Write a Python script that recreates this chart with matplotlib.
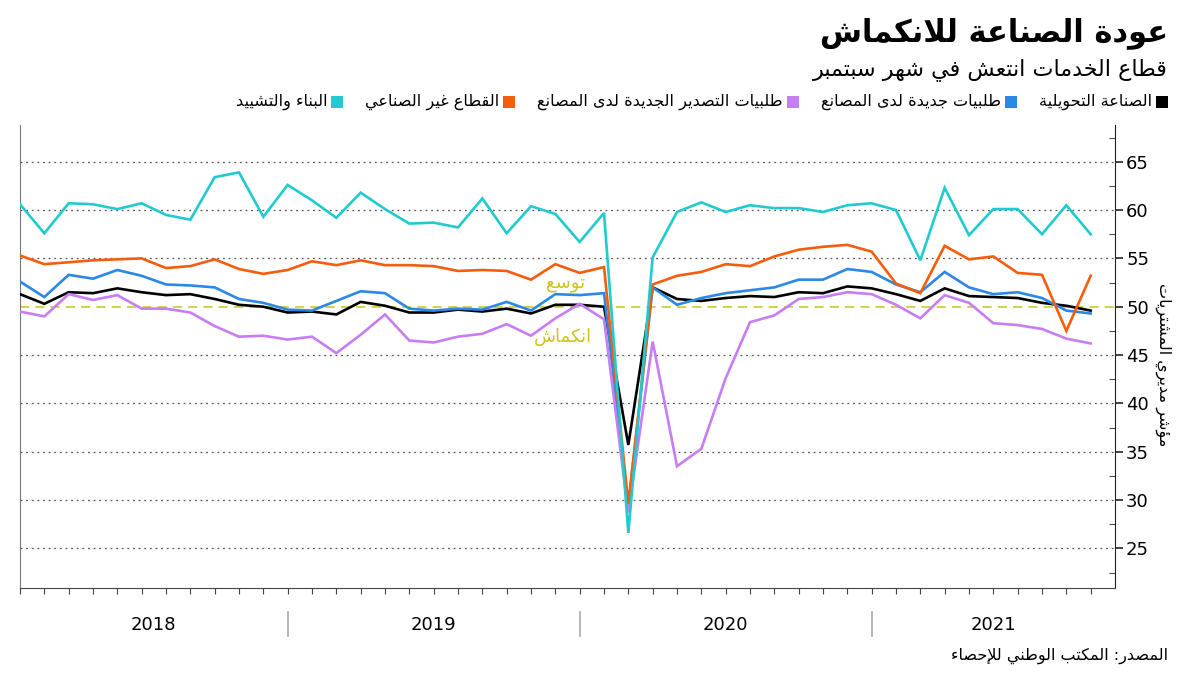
import matplotlib
matplotlib.use('Agg')
import matplotlib.pyplot as plt
from matplotlib.patches import Rectangle
from matplotlib.transforms import blended_transform_factory
import numpy as np

plt.rcParams['font.family'] = ['DejaVu Sans']

# monthly PMI readings, Jan 2018 .. Sep 2021
manufacturing = [51.3, 50.3, 51.5, 51.4, 51.9, 51.5, 51.2, 51.3, 50.8, 50.2, 50.0, 49.4,
                 49.5, 49.2, 50.5, 50.1, 49.4, 49.4, 49.7, 49.5, 49.8, 49.3, 50.2, 50.2,
                 50.0, 35.7, 52.0, 50.8, 50.6, 50.9, 51.1, 51.0, 51.5, 51.4, 52.1, 51.9,
                 51.3, 50.6, 51.9, 51.1, 51.0, 50.9, 50.4, 50.1, 49.6]
new_orders = [52.6, 51.0, 53.3, 52.9, 53.8, 53.2, 52.3, 52.2, 52.0, 50.8, 50.4, 49.7,
              49.6, 50.6, 51.6, 51.4, 49.8, 49.6, 49.8, 49.7, 50.5, 49.6, 51.3, 51.2,
              51.4, 29.3, 52.0, 50.2, 50.9, 51.4, 51.7, 52.0, 52.8, 52.8, 53.9, 53.6,
              52.3, 51.5, 53.6, 52.0, 51.3, 51.5, 50.9, 49.6, 49.3]
export_orders = [49.5, 49.0, 51.3, 50.7, 51.2, 49.8, 49.8, 49.4, 48.0, 46.9, 47.0, 46.6,
                 46.9, 45.2, 47.1, 49.2, 46.5, 46.3, 46.9, 47.2, 48.2, 47.0, 48.8, 50.3,
                 48.7, 28.7, 46.4, 33.5, 35.3, 42.6, 48.4, 49.1, 50.8, 51.0, 51.5, 51.3,
                 50.2, 48.8, 51.2, 50.4, 48.3, 48.1, 47.7, 46.7, 46.2]
non_manufacturing = [55.3, 54.4, 54.6, 54.8, 54.9, 55.0, 54.0, 54.2, 54.9, 53.9, 53.4, 53.8,
                     54.7, 54.3, 54.8, 54.3, 54.3, 54.2, 53.7, 53.8, 53.7, 52.8, 54.4, 53.5,
                     54.1, 29.6, 52.3, 53.2, 53.6, 54.4, 54.2, 55.2, 55.9, 56.2, 56.4, 55.7,
                     52.4, 51.4, 56.3, 54.9, 55.2, 53.5, 53.3, 47.5, 53.2]
construction = [60.6, 57.6, 60.7, 60.6, 60.1, 60.7, 59.5, 59.0, 63.4, 63.9, 59.3, 62.6,
                61.0, 59.2, 61.8, 60.1, 58.6, 58.7, 58.2, 61.2, 57.6, 60.4, 59.6, 56.7,
                59.7, 26.6, 55.1, 59.8, 60.8, 59.8, 60.5, 60.2, 60.2, 59.8, 60.5, 60.7,
                60.0, 54.8, 62.3, 57.4, 60.1, 60.1, 57.5, 60.5, 57.5]

years = ['2018', '2019', '2020', '2021']
year_centers = [5.5, 17, 29, 40]
year_breaks = [11, 23, 35]
grid_values = [25, 30, 35, 40, 45, 55, 60, 65]

series_names = ['الصناعة التحويلية', 'طلبيات جديدة لدى المصانع',
                'طلبيات التصدير الجديدة لدى المصانع', 'القطاع غير الصناعي', 'البناء والتشييد']
series_colors = ['#000000', '#2A88E6', '#C77DF3', '#F55D0C', '#1FCBCF']
yellow = '#CCC41C'

# --- tiny arabic shaper: matplotlib has no bidi / joining support ---
DUAL = {'ئ': 0xFE89, 'ب': 0xFE8F, 'ت': 0xFE95, 'ث': 0xFE99, 'ج': 0xFE9D, 'ح': 0xFEA1,
        'خ': 0xFEA5, 'س': 0xFEB1, 'ش': 0xFEB5, 'ص': 0xFEB9, 'ض': 0xFEBD, 'ط': 0xFEC1,
        'ظ': 0xFEC5, 'ع': 0xFEC9, 'غ': 0xFECD, 'ف': 0xFED1, 'ق': 0xFED5, 'ك': 0xFED9,
        'ل': 0xFEDD, 'م': 0xFEE1, 'ن': 0xFEE5, 'ه': 0xFEE9, 'ي': 0xFEF1}
RIGHT = {'آ': 0xFE81, 'أ': 0xFE83, 'ؤ': 0xFE85, 'إ': 0xFE87, 'ا': 0xFE8D, 'ة': 0xFE93,
         'د': 0xFEA9, 'ذ': 0xFEAB, 'ر': 0xFEAD, 'ز': 0xFEAF, 'و': 0xFEED, 'ى': 0xFEEF}
LAM_ALEF = {'آ': 0xFEF5, 'أ': 0xFEF7, 'إ': 0xFEF9, 'ا': 0xFEFB}


def ar(s):
    toks = []
    i = 0
    while i < len(s):
        c = s[i]
        if c == 'ل' and i + 1 < len(s) and s[i + 1] in LAM_ALEF:
            toks.append(('R', LAM_ALEF[s[i + 1]]))
            i += 2
            continue
        if c in DUAL:
            toks.append(('D', DUAL[c]))
        elif c in RIGHT:
            toks.append(('R', RIGHT[c]))
        else:
            toks.append(('U', c))
        i += 1
    out = []
    for k, (kind, val) in enumerate(toks):
        if kind == 'U':
            out.append(val)
            continue
        prev = toks[k - 1][0] if k > 0 else 'U'
        nxt = toks[k + 1][0] if k + 1 < len(toks) else 'U'
        jp = prev == 'D'
        jn = kind == 'D' and nxt in ('D', 'R')
        if jp and jn:
            off = 3
        elif jp:
            off = 1
        elif jn:
            off = 2
        else:
            off = 0
        out.append(chr(val + off))
    return ''.join(reversed(out))


W, H = 1200, 675
fig = plt.figure(figsize=(12, 6.75), dpi=100)
ax = fig.add_axes([20 / W, 1 - 588 / H, (1115 - 20) / W, (588 - 125) / H])

x = np.arange(len(manufacturing))
for v in grid_values:
    ax.axhline(v, color='#555555', lw=0.9, ls=(0, (1.5, 3)), zorder=1)
ax.axhline(50, color=yellow, lw=1.1, ls=(0, (6, 4)), zorder=1)

all_series = [manufacturing, new_orders, export_orders, non_manufacturing, construction]
for vals, col in zip(all_series, series_colors):
    ax.plot(x, vals, color=col, lw=1.9, zorder=3, solid_joinstyle='miter')

ax.set_xlim(0, 45)
ax.set_ylim(20.9, 68.8)

ax.spines['top'].set_visible(False)
ax.spines['left'].set_color('#777777')
ax.spines['bottom'].set_color('#444444')
ax.spines['right'].set_color('#222222')

ax.set_xticks(x)
ax.set_xticklabels([])
ax.tick_params(axis='x', direction='out', length=4, color='#444444')

ax.yaxis.tick_right()
ax.set_yticks(range(25, 70, 5))
ax.set_yticks(np.arange(22.5, 68, 5), minor=True)
ax.tick_params(axis='y', which='major', direction='out', length=6, width=1.2,
               labelsize=13, pad=2, color='#222222')
ax.tick_params(axis='y', which='minor', direction='in', length=4, color='#222222')
ax.tick_params(axis='y', which='both', left=False)

trans = blended_transform_factory(ax.transData, ax.transAxes)
for b in year_breaks:
    ax.plot([b, b], [-0.052, -0.104], color='#AAAAAA', lw=1.2, transform=trans, clip_on=False)
for yr, c in zip(years, year_centers):
    ax.text(c, -0.08, yr, transform=trans, ha='center', va='center', fontsize=13)

ax.text(22.4, 52.5, ar('توسع'), color=yellow, fontsize=13, ha='center', va='center', zorder=4)
ax.text(22.3, 46.9, ar('انكماش'), color=yellow, fontsize=13, ha='center', va='center', zorder=4)

# titles and source
fig.text(1168 / W, 1 - 33 / H, ar('عودة الصناعة للانكماش'), ha='right', va='center',
         fontsize=22, fontweight='bold')
fig.text(1168 / W, 1 - 70 / H, ar('قطاع الخدمات انتعش في شهر سبتمبر'), ha='right',
         va='center', fontsize=16)
fig.text(1168 / W, 1 - 656 / H, ar('المصدر: المكتب الوطني للإحصاء'), ha='right',
         va='center', fontsize=11.5)
fig.text(1163 / W, 1 - 365 / H, ar('مؤشر مديري المشتريات'), rotation=270, ha='center',
         va='center', fontsize=11.5)

# legend, right to left
renderer = fig.canvas.get_renderer()
xr = 1168
yc = 102
sq = 12
for name, col in zip(series_names, series_colors):
    fig.add_artist(Rectangle(((xr - sq) / W, 1 - (yc + sq / 2) / H), sq / W, sq / H,
                             transform=fig.transFigure, facecolor=col, edgecolor='none'))
    t = fig.text((xr - sq - 4) / W, 1 - yc / H, ar(name), ha='right', va='center', fontsize=11.6)
    bb = t.get_window_extent(renderer)
    xr = bb.x0 - 22

fig.savefig('out.png', dpi=100)
